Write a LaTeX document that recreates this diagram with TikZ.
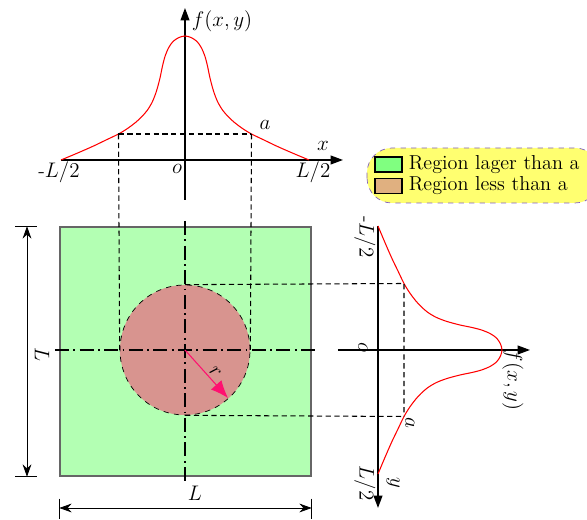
\documentclass[tikz,border=0pt]{standalone}
\usetikzlibrary{arrows.meta,positioning}
\definecolor{platefill}{HTML}{B3FFB3}
\definecolor{holefill}{HTML}{D8948F}
\definecolor{keygreen}{HTML}{80FF80}
\definecolor{keytan}{HTML}{E0B080}
\definecolor{legendfill}{HTML}{FFFF70}
\definecolor{legendline}{HTML}{8060C0}
\definecolor{radiusred}{HTML}{FF1070}
\tikzset{
  pics/bellplot/.style={code={
    \draw[thick,-{Triangle[length=7pt,width=5pt]}] (-2.48,0) -- (3.16,0);
    \draw[thick,-{Triangle[length=7pt,width=5pt]}] (0,-0.8) -- (0,3.04);
    \draw[red,semithick] plot[smooth,tension=0.5] coordinates {(-2.48,0) (-2.17,0.13) (-1.85,0.27) (-1.6,0.39) (-1.33,0.52) (-1.15,0.63) (-0.99,0.75) (-0.87,0.86) (-0.75,1.0) (-0.65,1.17) (-0.57,1.38) (-0.5,1.64) (-0.45,1.88) (-0.40,2.07) (-0.33,2.24) (-0.24,2.37) (-0.12,2.45) (0,2.48)
      (0.12,2.45) (0.24,2.37) (0.33,2.24) (0.40,2.07) (0.45,1.88) (0.5,1.64) (0.57,1.38) (0.65,1.17) (0.75,1.0) (0.87,0.86) (0.99,0.75) (1.15,0.63) (1.33,0.52) (1.6,0.39) (1.85,0.27) (2.17,0.13) (2.48,0)};
  }}
}
\begin{document}
\begin{tikzpicture}[every node/.style={font=\fontsize{11.5}{13}\selectfont},
  guide/.style={line width=0.6pt,dash pattern=on 3pt off 2pt},
  centerline/.style={thick,dash pattern=on 8pt off 2.5pt on 1pt off 2.5pt},
  dimline/.style={{Stealth[length=7pt,width=5pt]}-{Stealth[length=7pt,width=5pt]}},
  keybox/.style={draw,thick,minimum width=0.54cm,minimum height=0.3cm,inner sep=0pt}]
\useasboundingbox (-3.7,-3.4) rectangle (8.04,7.0);
% plate and hole
\node[draw=black!60,thick,fill=platefill,minimum width=5.02cm,minimum height=4.98cm,inner sep=0pt] (plate) at (0.01,-0.03) {};
\node[draw,dashed,fill=holefill,circle,minimum size=2.6cm,inner sep=0pt] (hole) at (0,0) {};
\draw[centerline] (0,2.58) -- (0,-2.66);
\draw[centerline] (-2.6,0) -- (2.64,0);
\draw[-{Latex[length=10pt,width=8pt]},radiusred,semithick] (hole.center) -- (0.86,-0.96);
\node[rotate=-48] (rlbl) at (0.6,-0.44) {$r$};
% top profile
\pic at (0,3.8) {bellplot};
\coordinate (al) at (-1.33,4.32); \coordinate (ar) at (1.33,4.32);
\draw[guide] (al) -- (ar);
\draw[guide] (al) -- (hole.west); \draw[guide] (ar) -- (hole.east);
\node (fxy) at (0.74,6.58) {$f(x,y)$};
\node (alb) at (1.6,4.5) {$a$};
\node (xlb) at (2.76,4.08) {$x$};
\node (lleft) at (-2.52,3.56) {-$L/2$};
\node (orig) at (-0.16,3.62) {$o$};
\node (lright) at (2.56,3.56) {$L/2$};
% right profile
\pic[rotate=-90] at (3.86,0) {bellplot};
\coordinate (at) at (4.38,1.33); \coordinate (ab) at (4.38,-1.33);
\draw[guide] (hole.north) -- (at) -- (ab);
\draw[guide] (hole.south) -- (ab);
\begin{scope}[every node/.append style={rotate=-90}]
\node (fxy2) at (6.56,-0.6) {$f(x,y)$};
\node (alb2) at (4.5,-1.46) {$a$};
\node (ylb) at (4.16,-2.66) {$y$};
\node (ltop) at (3.6,2.26) {-$L/2$};
\node (orig2) at (3.56,0.06) {$o$};
\node (lbot) at (3.6,-2.66) {$L/2$};
\node (dimlv) at (-2.86,-0.1) {$L$};
\end{scope}
% dimensions
\coordinate (dimx) at (-3.16,0); \coordinate (dimy) at (0,-3.16);
\draw (plate.north west) ++(-0.88,0) -- ++(0.44,0);
\draw (plate.south west) ++(-0.88,0) -- ++(0.44,0);
\draw[dimline] (plate.north west -| dimx) -- (plate.south west -| dimx);
\draw (plate.south west) ++(0,-0.44) -- ++(0,-0.4);
\draw (plate.south east) ++(0,-0.44) -- ++(0,-0.4);
\draw[dimline] (plate.south west |- dimy) -- (plate.south east |- dimy);
\node (dimlh) at (0.2,-2.86) {$L$};
% legend
\draw[legendline,dashed,fill=legendfill,rounded corners=0.5cm] (3.64,2.94) rectangle (8.3,4.04);
\node[keybox,fill=keygreen] (kg) at (4.07,3.71) {};
\node[keybox,fill=keytan] (kt) at (4.07,3.28) {};
\node[right=0pt of kg] (tg) {Region lager than a};
\node[right=0pt of kt] (tt) {Region less than a};
\end{tikzpicture}
\end{document}
